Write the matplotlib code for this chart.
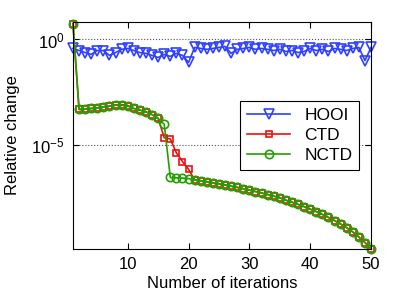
import matplotlib
matplotlib.use("Agg")
import matplotlib.pyplot as plt
import numpy as np

plt.rcParams['font.family'] = ['Liberation Sans', 'DejaVu Sans']
plt.rcParams['mathtext.fontset'] = 'custom'
plt.rcParams['mathtext.rm'] = 'Liberation Sans'
plt.rcParams['mathtext.it'] = 'Liberation Sans'

iters = list(range(1, 51))

hooi = [0.376, 0.30, 0.24, 0.196, 0.30, 0.30, 0.176, 0.24, 0.34, 0.376,
        0.30, 0.24, 0.22, 0.176, 0.14, 0.196, 0.158, 0.22, 0.176, 0.082,
        0.42, 0.376, 0.34, 0.376, 0.42, 0.47, 0.22, 0.34, 0.376, 0.42,
        0.34, 0.376, 0.34, 0.30, 0.34, 0.27, 0.30, 0.24, 0.27, 0.376,
        0.30, 0.34, 0.27, 0.376, 0.34, 0.30, 0.376, 0.42, 0.10, 0.42]

# shared tail (iterations 21-50), both methods coincide there
tail = [2.23e-7, 2.0e-7, 1.80e-7, 1.61e-7, 1.45e-7, 1.27e-7, 1.11e-7, 9.8e-8, 8.4e-8, 7.2e-8,
        6.2e-8, 5.27e-8, 4.48e-8, 3.76e-8, 3.16e-8, 2.41e-8, 1.94e-8, 1.53e-8, 1.19e-8, 9.1e-9,
        6.9e-9, 5.1e-9, 3.68e-9, 2.6e-9, 1.8e-9, 1.19e-9, 7.5e-10, 4.3e-10, 2.38e-10, 1.18e-10]

ctd_head = [5.7, 4.83e-4, 4.99e-4, 5.38e-4, 5.74e-4, 6.41e-4, 6.92e-4, 8.0e-4, 8.2e-4, 7.4e-4,
            5.38e-4, 4.48e-4, 3.72e-4, 2.75e-4, 1.82e-4, 2.21e-5, 1.92e-5, 4.2e-6, 1.63e-6, 7.0e-7]
nctd_head = [5.7, 4.83e-4, 4.99e-4, 5.38e-4, 5.74e-4, 6.41e-4, 6.92e-4, 7.7e-4, 7.7e-4, 6.92e-4,
             5.38e-4, 4.48e-4, 3.72e-4, 2.75e-4, 1.82e-4, 9.5e-5, 2.87e-7, 2.77e-7, 2.69e-7, 2.55e-7]

ctd = ctd_head + tail
nctd = nctd_head + tail

fig = plt.figure(figsize=(4.1, 2.96), dpi=100)
ax = fig.add_axes([0.178, 0.159, 0.727, 0.767])

ax.semilogy(iters, hooi, color='#3040ff', marker='v', markersize=6.5, mfc='none',
            mew=1.2, lw=1.2, label='HOOI', clip_on=False)
ax.semilogy(iters, ctd, color='#ee1010', marker='s', markersize=5, mfc='none',
            mew=1.2, lw=1.2, label='CTD', clip_on=False)
ax.semilogy(iters, nctd, color='#22a000', marker='o', markersize=6, mfc='none',
            mew=1.2, lw=1.2, label='NCTD', clip_on=False)

ax.set_xlim(1, 50)
ax.set_ylim(min(nctd), 6.8)
ax.set_xticks([10, 20, 30, 40, 50])
ax.set_yticks([1e0, 1e-5])
ax.set_yticklabels([r'$10^{0}$', r'$10^{-5}$'])
ax.yaxis.set_minor_locator(matplotlib.ticker.NullLocator())
ax.tick_params(direction='in', top=True, right=True, labelsize=12, length=4, pad=6)
ax.grid(True, axis='y', linestyle=':', color='#555555', linewidth=0.8)

ax.set_xlabel('Number of iterations', fontsize=12, labelpad=3)
ax.set_ylabel('Relative change', fontsize=12, labelpad=8)

leg = ax.legend(loc='center right', bbox_to_anchor=(0.99, 0.50), fontsize=12.5,
                fancybox=False, edgecolor='black', framealpha=1,
                handlelength=2.5, borderpad=0.4, labelspacing=0.3)
leg.get_frame().set_linewidth(0.8)

fig.savefig('out.png', dpi=100)
